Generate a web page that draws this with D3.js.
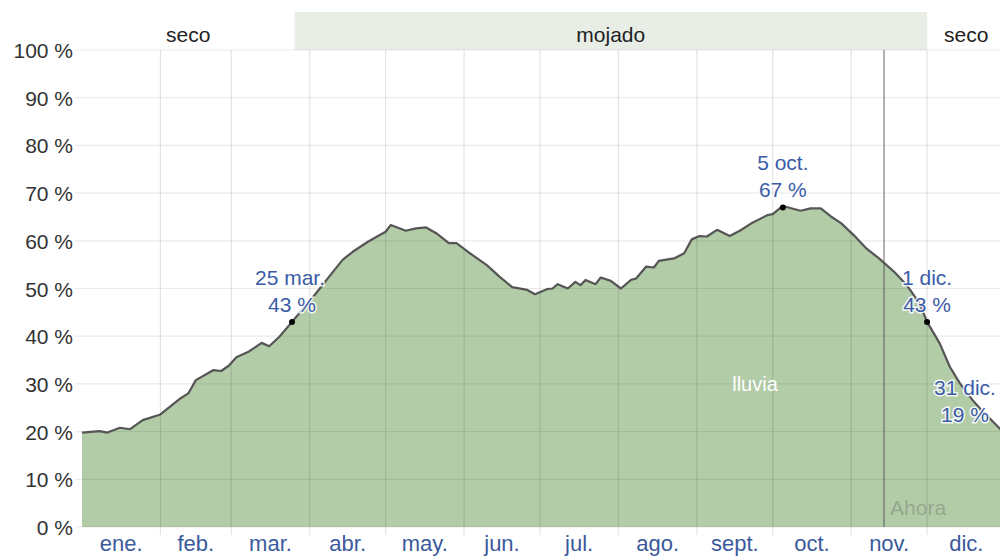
<!DOCTYPE html>
<html><head><meta charset="utf-8">
<script src="https://cdn.jsdelivr.net/npm/d3@7"></script>
<style>
html,body{margin:0;padding:0;background:#fff;overflow:hidden}
svg{display:block;font-family:"Liberation Sans",Arial,sans-serif}
</style></head><body>
<svg id="chart" width="1000" height="557"></svg>
<script>
// ---- data ----
const monthLabels = ["ene.","feb.","mar.","abr.","may.","jun.","jul.","ago.","sept.","oct.","nov.","dic."];
const monthStarts = [0,31,59,90,120,151,181,212,243,273,304,334,365];
const yTicks = [0,10,20,30,40,50,60,70,80,90,100];
// [day of year (0 = 1 ene.), chance of rain %]
const rainDays = [0,7,10,15,19,24,31,39,42,45,52,55,58,61,66,71,74,78,83,87,91,94,98,103,107,113,117,120,122,128,132,136,140,145,148,153,160,165,170,176,179,184,186,188,192,195,197,199,203,205,209,213,217,219,223,226,228,234,238,241,244,247,251,256,260,265,271,273,277,284,288,292,296,300,305,310,315,321,326,331,334,339,343,347,352,356,360,363,365];
const rainValues = [19.8,20.1,19.8,20.8,20.5,22.4,23.6,27.0,28.0,30.8,32.9,32.7,33.8,35.6,36.8,38.6,37.9,39.9,43.0,45.5,48.0,50.0,52.7,56.0,57.7,59.8,61.0,61.9,63.3,62.1,62.6,62.8,61.6,59.5,59.5,57.5,54.9,52.5,50.3,49.7,48.8,49.9,50.0,50.9,50.0,51.4,50.7,51.8,50.9,52.3,51.6,50.0,51.8,52.1,54.6,54.4,55.8,56.3,57.4,60.3,61.0,60.9,62.3,61.0,62.1,63.8,65.4,65.6,67.3,66.3,66.8,66.8,65.1,63.7,61.2,58.4,56.3,53.5,50.7,46.9,43.0,38.5,33.6,30.1,26.6,24.2,22.1,20.5,19.0];
const seasonNames = ["seco","mojado","seco"];
const seasonBounds = [0,84,334,365];
const annDays = [83,277,334,364];
const annTitles = ["25 mar.","5 oct.","1 dic.","31 dic."];
const annValues = [43,67,43,19];
const nowDay = 317;
const nowLabel = "Ahora";
const seriesLabel = "lluvia";
const seriesLabelDay = 266;

// ---- layout ----
const svg = d3.select("#chart");
const x = d3.scaleLinear().domain([0,365]).range([82,1005.5]);
const y = d3.scaleLinear().domain([0,100]).range([527,50]);
const data = rainDays.map((d,i)=>({d, v: rainValues[i]}));

// season band
const seasons = seasonNames.map((n,i)=>({n, a: seasonBounds[i], b: seasonBounds[i+1]}));
svg.selectAll("rect.season").data(seasons.filter(s=>s.n==="mojado")).join("rect")
  .attr("x", s=>x(s.a)).attr("width", s=>x(s.b)-x(s.a))
  .attr("y", 12).attr("height", 38).attr("fill","#e8eee6");
svg.selectAll("text.season").data(seasons).join("text")
  .attr("x", s=>(x(s.a)+Math.min(x(s.b),1008))/2)
  .attr("y", 42).attr("text-anchor","middle")
  .attr("font-size",21).attr("fill","#222").text(s=>s.n);

// area + line
const area = d3.area().x(d=>x(d.d)).y0(y(0)).y1(d=>y(d.v)).curve(d3.curveLinear);
const line = d3.line().x(d=>x(d.d)).y(d=>y(d.v)).curve(d3.curveLinear);
svg.append("path").datum(data).attr("d", area).attr("fill","#b3cca8");

// gridlines (drawn over area, translucent)
svg.append("g").selectAll("line").data(yTicks).join("line")
  .attr("x1",75).attr("x2",1000).attr("y1",d=>y(d)).attr("y2",d=>y(d))
  .attr("stroke","rgba(0,0,0,0.08)").attr("stroke-width",1.2);
svg.append("g").selectAll("line").data(monthStarts.slice(1,12)).join("line")
  .attr("x1",d=>x(d)).attr("x2",d=>x(d)).attr("y1",y(100)).attr("y2",535)
  .attr("stroke","rgba(0,0,0,0.11)").attr("stroke-width",1.2);

// now line
svg.append("line").attr("x1",x(nowDay)).attr("x2",x(nowDay)).attr("y1",y(100)).attr("y2",y(0))
  .attr("stroke","rgba(60,60,60,0.6)").attr("stroke-width",1.3);
svg.append("text").attr("x",x(nowDay)+6).attr("y",515).attr("font-size",21)
  .attr("fill","#93a88e").text(nowLabel);

svg.append("path").datum(data).attr("d", line).attr("fill","none")
  .attr("stroke","#555").attr("stroke-width",2.2).attr("stroke-linejoin","round");

// series label
svg.append("text").attr("x",x(seriesLabelDay)).attr("y",391).attr("text-anchor","middle")
  .attr("font-size",20).attr("fill","#fff").text(seriesLabel);

// y axis labels
svg.append("g").selectAll("text").data(yTicks).join("text")
  .attr("x",73).attr("y",d=>y(d)+8).attr("text-anchor","end")
  .attr("font-size",21).attr("fill","#333").text(d=>d+" %");

// month labels
svg.append("g").selectAll("text").data(monthLabels).join("text")
  .attr("x",(d,i)=>(x(monthStarts[i])+x(monthStarts[i+1]))/2)
  .attr("y",551).attr("text-anchor","middle")
  .attr("font-size",22).attr("fill","#3a5a9c").text(d=>d);

// annotations
const anns = annDays.map((d,i)=>({d, t: annTitles[i], v: annValues[i]}));
const annDx = [-2,0,0,-38];
const annDy = [0,0,0,-4];
anns.forEach((a,i)=>{
  const px = x(a.d), py = y(a.v);
  if (px < 1000) svg.append("circle").attr("cx",px).attr("cy",py).attr("r",3).attr("fill","#000");
  const tx = px + annDx[i];
  [a.t, a.v+" %"].forEach((s,j)=>{
    svg.append("text").attr("x", tx + (j===1 && i===0 ? 2 : 0)).attr("y", py - 37 + j*27 + annDy[i])
      .attr("text-anchor","middle").attr("font-size",21)
      .attr("fill","#3a5ca6").attr("stroke","#fff").attr("stroke-width",3)
      .attr("stroke-opacity",0.85).attr("paint-order","stroke").text(s);
  });
});
</script></body></html>
